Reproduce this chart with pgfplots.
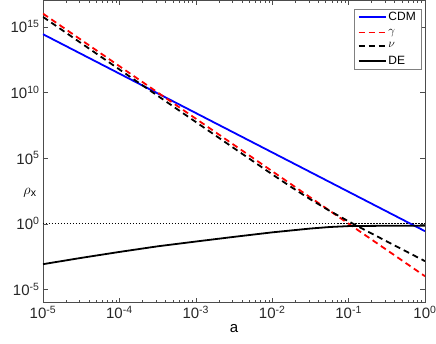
\documentclass[border=0pt]{standalone}
\usepackage{fontspec}
\setmainfont{Liberation Sans}
\usepackage{pgfplots}
\pgfplotsset{compat=1.18}
\usetikzlibrary{calc}

\begin{document}
\begin{tikzpicture}
\begin{axis}[
  name=ax,
  scale only axis,
  width=382pt, height=302pt,
  xmode=log, ymode=log,
  xmin=1e-5, xmax=1, ymin=1e-6, ymax=1e17,
  xtick={1e-5,1e-4,1e-3,1e-2,1e-1,1},
  xticklabels={10\textsuperscript{-5},10\textsuperscript{-4},10\textsuperscript{-3},10\textsuperscript{-2},10\textsuperscript{-1},10\textsuperscript{0}},
  ytick={1e-5,1,1e5,1e10,1e15},
  yticklabels={10\textsuperscript{-5},10\textsuperscript{0},10\textsuperscript{5},10\textsuperscript{10},10\textsuperscript{15}},
  yminorticks=false,
  clip mode=individual,
  tick align=inside, tick pos=both,
  major tick length=5pt, minor tick length=3pt,
  ticklabel style={font=\fontsize{15}{16}\selectfont, text=black!85},
  axis line style={black!70}, tick style={black!70},
  xlabel={a}, xlabel style={font=\fontsize{15}{16}\selectfont, yshift=1pt},
  legend style={at={(rel axis cs:0.9895,0.9735)}, anchor=north east,
    font=\fontsize{12}{13}\selectfont, draw=black!50,
    inner xsep=3pt, inner ysep=1.5pt, row sep=3pt},
  legend cell align=left,
  legend image code/.code={\draw[#1] (0pt,0pt) -- (27pt,0pt);},
]
% reference line at 1
\addplot[black, line width=1.5pt, dash pattern=on 1.5pt off 1.5pt, forget plot]
  coordinates {(1e-5,1) (1,1)};
\addplot[draw=blue, line width=1.8pt] coordinates {(1e-5,2.7e14) (1,0.27)};
\addlegendentry{CDM}
\addplot[draw=red, line width=1.8pt, dash pattern=on 6pt off 4pt]
  coordinates {(1e-5,1e16) (1,1e-4)};
\addlegendentry{$\gamma$}
\addplot[draw=black, line width=1.8pt, dash pattern=on 6pt off 4pt] coordinates {
  (1e-5,5.62e15) (1e-4,5.62e11) (1e-3,5.62e7) (3.162e-3,5.64e5) (1e-2,5.79e3)
  (1.778e-2,616.6) (3.162e-2,71.8) (5.623e-2,9.73) (1e-1,1.52)
  (1.778e-1,0.257) (3.162e-1,0.045) (5.623e-1,7.96e-3) (1,1.41e-3)};
\addlegendentry{$\nu$}
\addplot[draw=black, line width=1.8pt] coordinates {
  (1e-5,8.3e-4) (3.162e-5,2.5e-3) (1e-4,7.1e-3) (3.162e-4,1.9e-2)
  (1e-3,4.4e-2) (3.162e-3,0.1) (1e-2,0.22) (3.162e-2,0.43)
  (5.623e-2,0.56) (1e-1,0.66) (3.162e-1,0.70) (1,0.70)};
\addlegendentry{DE}
\end{axis}
\node[font=\fontsize{15}{16}\selectfont] at ($(ax.south west)+(-13pt,110pt)$) {$\rho$\textsubscript{x}};
\pgfresetboundingbox
\path ($(ax.south west)+(-43pt,-41pt)$) rectangle ($(ax.north east)+(11pt,0.5pt)$);
\end{tikzpicture}
\end{document}
